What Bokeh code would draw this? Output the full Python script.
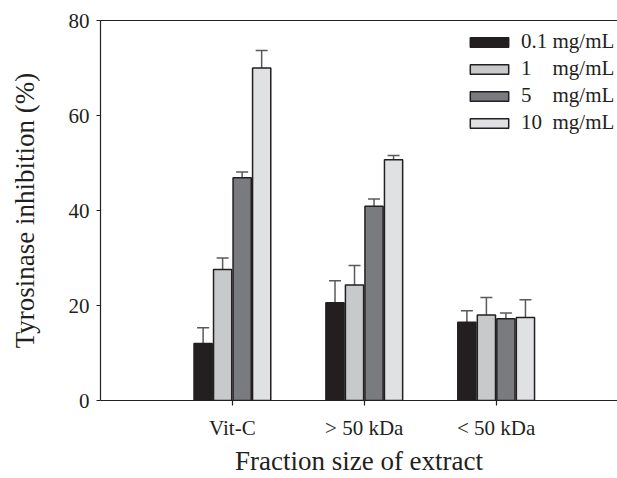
from bokeh.plotting import figure
from bokeh.models import (ColumnDataSource, Range1d, FixedTicker, LinearAxis, Whisker,
                          TeeHead, Legend, LegendItem)
from bokeh.embed import file_html
from bokeh.resources import INLINE

categories = ["Vit-C", "> 50 kDa", "< 50 kDa"]
series = ["0.1 mg/mL", "1 mg/mL", "5 mg/mL", "10 mg/mL"]
legend_labels = ["0.1\u00a0mg/mL", "1\u00a0\u00a0\u00a0\u00a0mg/mL", "5\u00a0\u00a0\u00a0\u00a0mg/mL", "10\u00a0\u00a0mg/mL"]
values = [
    [12.0, 20.6, 16.5],
    [27.6, 24.3, 18.0],
    [46.9, 40.9, 17.2],
    [70.0, 50.7, 17.5],
]
errors = [
    [3.3, 4.6, 2.4],
    [2.4, 4.1, 3.7],
    [1.2, 1.5, 1.2],
    [3.7, 0.9, 3.7],
]
colors = ["#231f20", "#c8c9cb", "#7a7b7f", "#e0e1e3"]
y_ticks = [0, 20, 40, 60, 80]

FONT = "Liberation Serif"

p = figure(width=617, height=478, output_backend="svg", toolbar_location=None,
           x_range=Range1d(0, 3.92), y_range=Range1d(0, 80),
           min_border_left=100, min_border_right=0, min_border_top=20, min_border_bottom=78)
p.outline_line_color = None
p.grid.visible = False
p.background_fill_color = "white"

step = 0.148
width = 0.138
renderers = []
for i, (vals, errs, col) in enumerate(zip(values, errors, colors)):
    xs = [k + 1 + (i - 1.5) * step for k in range(len(categories))]
    tops = [v + e for v, e in zip(vals, errs)]
    src = ColumnDataSource(dict(x=xs, top=vals, upper=tops))
    w = Whisker(source=src, base="x", lower="top", upper="upper",
                line_color="#5a5a5c", line_width=1.5,
                upper_head=TeeHead(size=12, line_color="#5a5a5c", line_width=1.5),
                lower_head=None, level="underlay")
    p.add_layout(w)
    r = p.vbar(x="x", top="top", width=width, bottom=0, source=src,
               fill_color=col, line_color="#231f20", line_width=1.5)
    renderers.append(r)

# axes
p.xaxis.ticker = FixedTicker(ticks=[1, 2, 3])
p.xaxis.major_label_overrides = {1: categories[0], 2: categories[1], 3: categories[2]}
p.xaxis.minor_tick_line_color = None
p.xaxis.major_tick_in = 0
p.xaxis.major_tick_out = 5
p.xaxis.major_label_standoff = 10
p.xaxis.axis_label = "Fraction size of extract"
p.xaxis.axis_label_standoff = 3

p.yaxis.ticker = FixedTicker(ticks=y_ticks)
p.yaxis.minor_tick_line_color = None
p.yaxis.major_tick_in = 0
p.yaxis.major_tick_out = 4
p.yaxis.major_label_standoff = 7
p.yaxis.axis_label = "Tyrosinase inhibition (%)"
p.yaxis.axis_label_standoff = 26

for ax in (p.xaxis[0], p.yaxis[0]):
    ax.axis_line_color = "#231f20"
    ax.axis_line_width = 1.2
    ax.major_tick_line_color = "#231f20"
    ax.major_tick_line_width = 1.2
    ax.major_label_text_font = FONT
    ax.major_label_text_font_size = "21px"
    ax.major_label_text_color = "#231f20"
    ax.axis_label_text_font = FONT
    ax.axis_label_text_font_size = "27px"
    ax.axis_label_text_font_style = "normal"
    ax.axis_label_text_color = "#231f20"

top_axis = LinearAxis(ticker=FixedTicker(ticks=[]), major_label_text_font_size="0px",
                      major_tick_line_color=None, minor_tick_line_color=None,
                      axis_line_color="#231f20", axis_line_width=1.2)
p.add_layout(top_axis, "above")

legend = Legend(items=[LegendItem(label=lab, renderers=[r]) for lab, r in zip(legend_labels, renderers)],
                location=(365, 265), glyph_width=48, glyph_height=12, label_height=20,
                spacing=2, padding=0, margin=0, label_standoff=8,
                label_text_font=FONT, label_text_font_size="21px", label_text_color="#231f20",
                border_line_color=None, background_fill_alpha=0)
p.add_layout(legend)

open("out.html", "w").write(file_html(p, INLINE))
